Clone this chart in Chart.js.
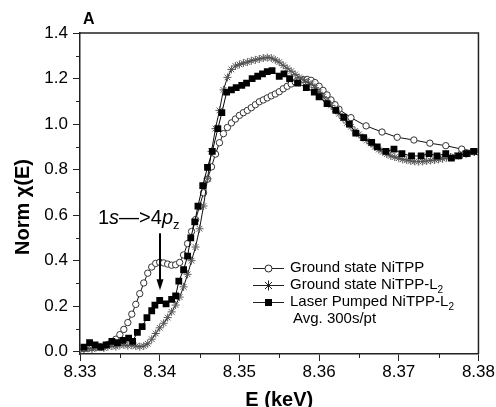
<!DOCTYPE html>
<html>
<head>
<meta charset="utf-8">
<script src="https://cdn.jsdelivr.net/npm/chart.js@4/dist/chart.umd.min.js"></script>
<style>
  html, body { margin: 0; padding: 0; background: #fff; }
  #wrap { width: 496px; height: 407px; }
</style>
</head>
<body>
<div id="wrap"><canvas id="xanes" width="496" height="407"></canvas></div>
<script>
// axis ticks
const eTicks = [8.33, 8.34, 8.35, 8.36, 8.37, 8.38];
const eMinor = [8.335, 8.345, 8.355, 8.365, 8.375];
const normTicks = [0, 0.2, 0.4, 0.6, 0.8, 1.0, 1.2, 1.4];
const normMinor = [0.1, 0.3, 0.5, 0.7, 0.9, 1.1, 1.3];

// Ground state NiTPP (open circles)
const nitppE = [
  8.3300, 8.3305, 8.3310, 8.3315, 8.3320, 8.3325, 8.3330, 8.3335, 8.3340, 8.3345,
  8.3350, 8.3355, 8.3360, 8.3365, 8.3370, 8.3375, 8.3380, 8.3385, 8.3390, 8.3395,
  8.3400, 8.3405, 8.3410, 8.3415, 8.3420, 8.3425, 8.3430, 8.3435, 8.3440, 8.3445,
  8.3450, 8.3455, 8.3460, 8.3465, 8.3470, 8.3475, 8.3480, 8.3485, 8.3490, 8.3495,
  8.3500, 8.3505, 8.3510, 8.3515, 8.3520, 8.3525, 8.3530, 8.3535, 8.3540, 8.3545,
  8.3550, 8.3555, 8.3560, 8.3565, 8.3570, 8.3575, 8.3580, 8.3585, 8.3590, 8.3595,
  8.3600, 8.3605, 8.3610, 8.3615, 8.3620, 8.3625,
  8.3640, 8.3659, 8.3679, 8.3698, 8.3719, 8.3739, 8.3759, 8.3779, 8.3800
];
const nitppNorm = [
  0.012, 0.014, 0.016, 0.018, 0.020, 0.023, 0.026, 0.032, 0.042, 0.055,
  0.075, 0.098, 0.128, 0.165, 0.208, 0.255, 0.302, 0.345, 0.372, 0.388,
  0.393, 0.390, 0.385, 0.380, 0.382, 0.392, 0.425, 0.475, 0.528, 0.580,
  0.638, 0.698, 0.758, 0.812, 0.868, 0.918, 0.958, 0.985, 1.005, 1.022,
  1.038, 1.050, 1.060, 1.072, 1.085, 1.098, 1.106, 1.115, 1.124, 1.132,
  1.142, 1.155, 1.166, 1.176, 1.185, 1.190, 1.195, 1.196, 1.192, 1.182,
  1.166, 1.148, 1.128, 1.106, 1.085, 1.065,
  1.028, 0.992, 0.965, 0.942, 0.930, 0.916, 0.905, 0.890, 0.878
];

// Ground state NiTPP-L2 (stars)
const nitppL2E = [
  8.3300, 8.3305, 8.3310, 8.3315, 8.3320, 8.3325, 8.3330, 8.3335, 8.3340, 8.3345,
  8.3350, 8.3355, 8.3360, 8.3365, 8.3370, 8.3375, 8.3380, 8.3385, 8.3390, 8.3395,
  8.3400, 8.3405, 8.3410, 8.3415, 8.3420, 8.3425, 8.3430, 8.3435, 8.3440, 8.3445,
  8.3450, 8.3455, 8.3460, 8.3465, 8.3470, 8.3475, 8.3480, 8.3485, 8.3490, 8.3495,
  8.3500, 8.3505, 8.3510, 8.3515, 8.3520, 8.3525, 8.3530, 8.3535, 8.3540, 8.3545,
  8.3550, 8.3555, 8.3560, 8.3565, 8.3570, 8.3575, 8.3580, 8.3585, 8.3590, 8.3595,
  8.3600, 8.3605, 8.3610, 8.3615, 8.3620, 8.3625, 8.3630, 8.3635, 8.3640, 8.3645,
  8.3650, 8.3655, 8.3660, 8.3665, 8.3670, 8.3675, 8.3680, 8.3685, 8.3690, 8.3695,
  8.3700, 8.3705, 8.3710, 8.3715, 8.3720, 8.3725, 8.3730, 8.3735, 8.3740, 8.3745,
  8.3750, 8.3755, 8.3760, 8.3765, 8.3770, 8.3775, 8.3780, 8.3785, 8.3790, 8.3795,
  8.3800
];
const nitppL2Norm = [
  0.010, 0.012, 0.015, 0.012, 0.018, 0.020, 0.016, 0.022, 0.025, 0.022,
  0.028, 0.030, 0.026, 0.028, 0.025, 0.022, 0.025, 0.035, 0.055, 0.080,
  0.105, 0.125, 0.150, 0.175, 0.205, 0.240, 0.285, 0.340, 0.400, 0.460,
  0.540, 0.640, 0.760, 0.880, 0.980, 1.060, 1.150, 1.205, 1.240, 1.255,
  1.262, 1.268, 1.272, 1.278, 1.282, 1.286, 1.290, 1.292, 1.290, 1.282,
  1.272, 1.258, 1.245, 1.232, 1.218, 1.205, 1.195, 1.185, 1.175, 1.160,
  1.140, 1.120, 1.100, 1.082, 1.065, 1.045, 1.025, 1.005, 0.988, 0.970,
  0.955, 0.940, 0.928, 0.915, 0.900, 0.888, 0.878, 0.868, 0.860, 0.855,
  0.850, 0.845, 0.842, 0.838, 0.836, 0.835, 0.836, 0.838, 0.840, 0.842,
  0.845, 0.848, 0.852, 0.855, 0.858, 0.862, 0.866, 0.870, 0.874, 0.877,
  0.880
];

// Laser Pumped NiTPP-L2 (filled squares)
const pumpedE = [
  8.3305, 8.3312, 8.3319, 8.3326, 8.3333, 8.3340, 8.3347, 8.3354, 8.3361, 8.3366,
  8.3372, 8.3378, 8.3384, 8.3390, 8.3394, 8.3400, 8.3408, 8.3415, 8.3420, 8.3424,
  8.3430, 8.3435, 8.3439, 8.3444, 8.3448, 8.3454, 8.3460, 8.3466, 8.3473, 8.3478,
  8.3484, 8.3490, 8.3496, 8.3503, 8.3509, 8.3516, 8.3523, 8.3529, 8.3535, 8.3541,
  8.3550, 8.3556, 8.3563, 8.3573, 8.3584, 8.3594, 8.3600, 8.3610, 8.3621, 8.3631,
  8.3638, 8.3646, 8.3656, 8.3666, 8.3673, 8.3684, 8.3694, 8.3704, 8.3716, 8.3728,
  8.3738, 8.3748, 8.3759, 8.3766, 8.3775, 8.3785, 8.3794
];
const pumpedNorm = [
  0.020, 0.040, 0.030, 0.020, 0.030, 0.045, 0.040, 0.050, 0.060, 0.045,
  0.085, 0.110, 0.150, 0.180, 0.205, 0.225, 0.210, 0.230, 0.245, 0.310,
  0.360, 0.420, 0.500, 0.570, 0.640, 0.730, 0.810, 0.880, 0.980, 1.050,
  1.140, 1.150, 1.160, 1.170, 1.180, 1.200, 1.210, 1.220, 1.230, 1.235,
  1.210, 1.220, 1.200, 1.180, 1.160, 1.140, 1.120, 1.090, 1.060, 1.030,
  1.000, 0.960, 0.940, 0.920, 0.900, 0.880, 0.890, 0.870, 0.860, 0.860,
  0.870, 0.860, 0.870, 0.850, 0.860, 0.870, 0.880
];

const FONT = '"Liberation Sans", Arial, sans-serif';

function pts(xs, ys) {
  return xs.map(function (x, i) { return { x: x, y: ys[i] }; });
}

function drawMarker(ctx, kind, x, y) {
  ctx.save();
  ctx.lineWidth = 1;
  if (kind === 'circle') {
    ctx.beginPath();
    ctx.arc(x, y, 3.5, 0, Math.PI * 2);
    ctx.fillStyle = '#fff';
    ctx.fill();
    ctx.strokeStyle = '#222';
    ctx.stroke();
  } else if (kind === 'star') {
    ctx.strokeStyle = '#222';
    ctx.beginPath();
    const r = 5;
    for (let k = 0; k < 4; k++) {
      const a = k * Math.PI / 4;
      ctx.moveTo(x - r * Math.sin(a), y - r * Math.cos(a));
      ctx.lineTo(x + r * Math.sin(a), y + r * Math.cos(a));
    }
    ctx.stroke();
  } else {
    ctx.fillStyle = '#000';
    ctx.fillRect(x - 3.5, y - 3.5, 7, 7);
  }
  ctx.restore();
}

// text pieces: [text, font, dy]
function drawRich(ctx, pieces, x, y) {
  pieces.forEach(function (p) {
    ctx.font = p[1];
    ctx.fillText(p[0], x, y + (p[2] || 0));
    x += ctx.measureText(p[0]).width;
  });
}

const decor = {
  id: 'decor',
  afterDraw(chart) {
    const ctx = chart.ctx;
    const a = chart.chartArea;
    const xs = chart.scales.x, ys = chart.scales.y;
    ctx.save();

    // frame top and right
    ctx.strokeStyle = '#222';
    ctx.lineWidth = 1.5;
    ctx.beginPath();
    ctx.moveTo(a.left, a.top);
    ctx.lineTo(a.right, a.top);
    ctx.lineTo(a.right, a.bottom);
    ctx.stroke();

    // minor ticks
    ctx.lineWidth = 1;
    ctx.beginPath();
    eMinor.forEach(function (v) {
      const px = Math.round(xs.getPixelForValue(v)) + 0.5;
      ctx.moveTo(px, a.bottom);
      ctx.lineTo(px, a.bottom + 4);
    });
    normMinor.forEach(function (v) {
      const py = Math.round(ys.getPixelForValue(v)) + 0.5;
      ctx.moveTo(a.left - 4, py);
      ctx.lineTo(a.left, py);
    });
    ctx.stroke();

    ctx.fillStyle = '#000';

    // panel letter
    ctx.font = 'bold 16px ' + FONT;
    ctx.textBaseline = 'middle';
    ctx.textAlign = 'left';
    ctx.fillText('A', 83, 20);

    // axis titles
    ctx.textBaseline = 'alphabetic';
    ctx.textAlign = 'center';
    ctx.font = 'bold 20px ' + FONT;
    ctx.fillText('E (keV)', (a.left + a.right) / 2, 406);
    ctx.save();
    ctx.translate(29, 207);
    ctx.rotate(-Math.PI / 2);
    ctx.fillText('Norm \u03C7(E)', 0, 0);
    ctx.restore();

    // transition label and arrow
    ctx.textAlign = 'left';
    drawRich(ctx, [
      ['1', '20px ' + FONT],
      ['s', 'italic 20px ' + FONT],
      ['\u2014>', '20px ' + FONT],
      ['4', '20px ' + FONT],
      ['p', 'italic 20px ' + FONT],
      ['z', '13px ' + FONT, 5]
    ], 98, 224);
    const ax = Math.round(xs.getPixelForValue(8.34));
    const yTop = ys.getPixelForValue(0.52);
    const yTip = ys.getPixelForValue(0.27);
    ctx.lineWidth = 2;
    ctx.strokeStyle = '#000';
    ctx.beginPath();
    ctx.moveTo(ax, yTop);
    ctx.lineTo(ax, yTip - 8);
    ctx.stroke();
    ctx.beginPath();
    ctx.moveTo(ax - 3.5, yTip - 11);
    ctx.lineTo(ax + 3.5, yTip - 11);
    ctx.lineTo(ax, yTip);
    ctx.closePath();
    ctx.fill();

    // legend
    const rows = [
      ['circle', [['Ground state NiTPP', '15px ' + FONT]]],
      ['star', [['Ground state NiTPP-L', '15px ' + FONT], ['2', '10px ' + FONT, 5]]],
      ['rect', [['Laser Pumped NiTPP-L', '15px ' + FONT], ['2', '10px ' + FONT, 5]]]
    ];
    ctx.textBaseline = 'middle';
    rows.forEach(function (r, i) {
      const y = 268 + i * 17;
      ctx.strokeStyle = '#222';
      ctx.lineWidth = 1;
      ctx.beginPath();
      ctx.moveTo(253, y + 0.5);
      ctx.lineTo(284, y + 0.5);
      ctx.stroke();
      drawMarker(ctx, r[0], 268.5, y + 0.5);
      ctx.fillStyle = '#000';
      drawRich(ctx, r[1], 290, y);
    });
    ctx.font = '15px ' + FONT;
    ctx.fillText('Avg. 300s/pt', 293, 319);

    ctx.restore();
  }
};

new Chart(document.getElementById('xanes'), {
  type: 'scatter',
  data: {
    datasets: [
      {
        label: 'Ground state NiTPP',
        data: pts(nitppE, nitppNorm),
        showLine: true,
        borderColor: '#111',
        borderWidth: 1,
        pointStyle: 'circle',
        pointRadius: 3.2,
        pointBackgroundColor: '#fff',
        pointBorderColor: '#333',
        pointBorderWidth: 1,
        order: 2
      },
      {
        label: 'Ground state NiTPP-L2',
        data: pts(nitppL2E, nitppL2Norm),
        showLine: true,
        borderColor: '#111',
        borderWidth: 1,
        pointStyle: 'star',
        pointRadius: 4,
        pointBorderColor: '#555',
        pointBorderWidth: 1,
        order: 1
      },
      {
        label: 'Laser Pumped NiTPP-L2',
        data: pts(pumpedE, pumpedNorm),
        showLine: true,
        borderColor: '#000',
        borderWidth: 1,
        pointStyle: 'rect',
        pointRadius: 4.8,
        pointBackgroundColor: '#000',
        pointBorderColor: '#000',
        pointBorderWidth: 0,
        order: 0
      }
    ]
  },
  options: {
    responsive: false,
    animation: false,
    layout: { padding: { left: 0, top: 33, right: 17, bottom: 0 } },
    plugins: {
      legend: { display: false },
      tooltip: { enabled: false }
    },
    scales: {
      x: {
        type: 'linear',
        min: 8.33,
        max: 8.38,
        afterBuildTicks: function (s) { s.ticks = eTicks.map(function (v) { return { value: v }; }); },
        afterFit: function (s) { s.height = 53; },
        border: { color: '#222', width: 1.5 },
        grid: { drawOnChartArea: false, drawTicks: true, tickLength: 7, tickColor: '#222', tickWidth: 1 },
        ticks: {
          autoSkip: false,
          maxRotation: 0,
          padding: 1,
          color: '#000',
          font: { family: FONT, size: 17 },
          callback: function (v) { return Number(v).toFixed(2); }
        }
      },
      y: {
        type: 'linear',
        min: -0.01,
        max: 1.4,
        afterBuildTicks: function (s) { s.ticks = normTicks.map(function (v) { return { value: v }; }); },
        afterFit: function (s) { s.width = 80; },
        border: { color: '#222', width: 1.5 },
        grid: { drawOnChartArea: false, drawTicks: true, tickLength: 7, tickColor: '#222', tickWidth: 1 },
        ticks: {
          autoSkip: false,
          padding: 5,
          color: '#000',
          font: { family: FONT, size: 17 },
          callback: function (v) { return Number(v).toFixed(1); }
        }
      }
    }
  },
  plugins: [decor]
});
</script>
</body>
</html>
